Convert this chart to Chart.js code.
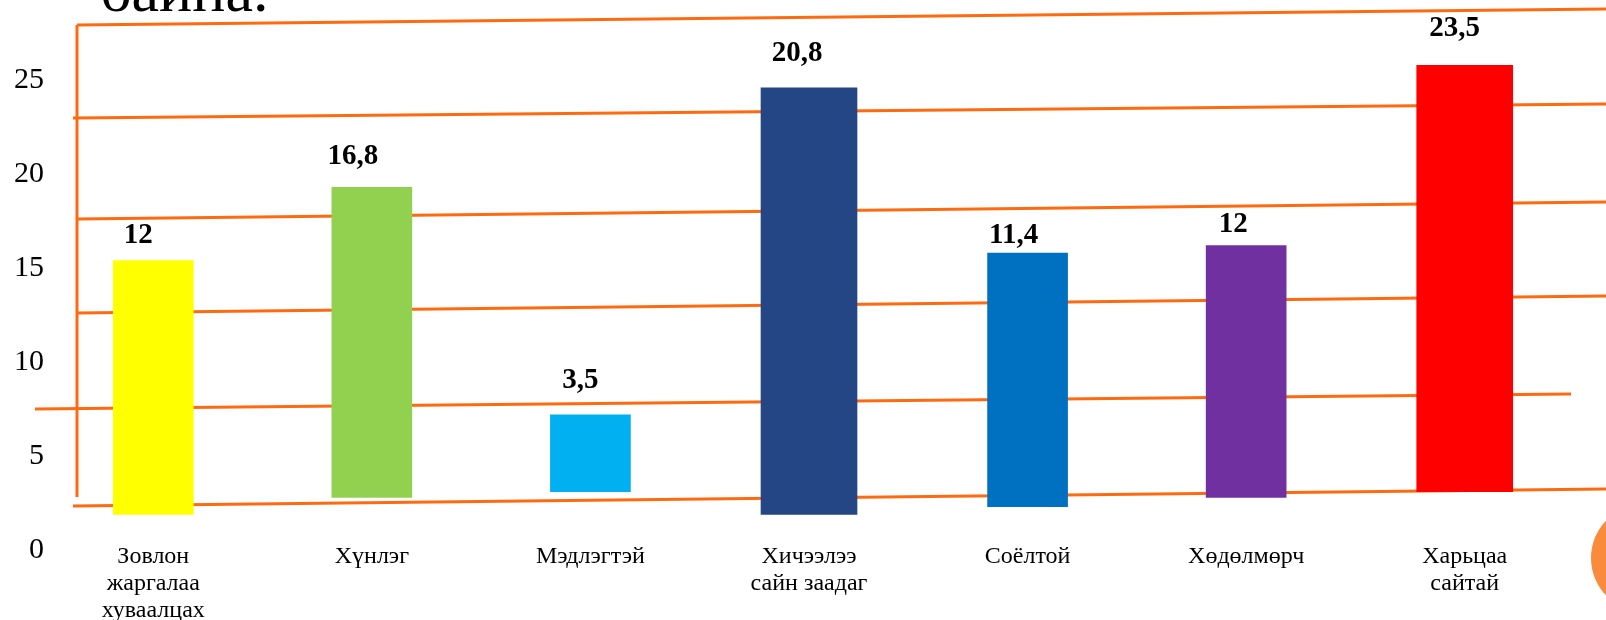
<!DOCTYPE html>
<html><head><meta charset="utf-8">
<script src="https://cdn.jsdelivr.net/npm/chart.js@4"></script>
<style>html,body{margin:0;padding:0;background:#fff;overflow:hidden}#wrap{width:1606px;height:620px;position:relative}</style>
</head><body><div id="wrap"><canvas id="c" width="1606" height="620"></canvas></div>
<script>
// ---- data ----
const categories = [['Зовлон','жаргалаа','хуваалцах'], ['Хүнлэг'], ['Мэдлэгтэй'], ['Хичээлээ','сайн заадаг'], ['Соёлтой'], ['Хөдөлмөрч'], ['Харьцаа','сайтай']];
const barTops  = [15.4, 19.3, 7.2, 24.6, 15.8, 16.2, 25.8];
const barBases = [1.9, 2.8, 3.1, 1.9, 2.3, 2.8, 3.1];
const valueLabels = ['12', '16,8', '3,5', '20,8', '11,4', '12', '23,5'];
const yTicks = [0, 5, 10, 15, 20, 25];

// ---- styles ----
const barColors = ['#FFFF00', '#92D050', '#00B0F0', '#244684', '#0070C0', '#7030A0', '#FF0000'];
const wideBars = new Set([3, 6]);
const labelNudgeX = [-15, -19, -10, -12, -14, -13, -10];
const labelNudgeY = [-25, -31, -34, -34, -18, -21, -37];
const ORANGE = '#FF6A10';
const SERIF = '"Liberation Serif", "Times New Roman", serif';

const pairs = categories.map((_, i) => [barBases[i], barTops[i]]);
const narrowData = pairs.map((p, i) => wideBars.has(i) ? null : p);
const wideData = pairs.map((p, i) => wideBars.has(i) ? p : null);

const decor = {
  id: 'decor',
  beforeDatasetsDraw(chart) {
    const ctx = chart.ctx;
    ctx.save();
    // title fragment at top
    ctx.fillStyle = '#000';
    ctx.font = '62px ' + SERIF;
    ctx.textBaseline = 'alphabetic';
    ctx.textAlign = 'left';
    ctx.fillText('байна.', 100, 11);
    // hand-drawn orange guide lines
    ctx.strokeStyle = ORANGE;
    ctx.lineWidth = 3;
    const segs = [
      [77, 25, 1606, 9], [73, 118, 1606, 104], [77, 219, 1606, 202],
      [77, 313, 1606, 296], [35, 409, 1571, 394], [73, 506, 1606, 489],
      [77, 25, 77, 497]
    ];
    segs.forEach(s => { ctx.beginPath(); ctx.moveTo(s[0], s[1]); ctx.lineTo(s[2], s[3]); ctx.stroke(); });
    // slide corner circle
    ctx.fillStyle = '#FA8B3C';
    ctx.beginPath(); ctx.arc(1645, 558, 54, 0, Math.PI * 2); ctx.fill();
    ctx.restore();
  },
  afterDatasetsDraw(chart) {
    const ctx = chart.ctx;
    ctx.save();
    ctx.fillStyle = '#000';
    ctx.font = 'bold 29px ' + SERIF;
    ctx.textAlign = 'center';
    ctx.textBaseline = 'middle';
    chart.data.datasets.forEach((ds, di) => {
      const meta = chart.getDatasetMeta(di);
      meta.data.forEach((el, i) => {
        if (ds.data[i] == null) return;
        ctx.fillText(valueLabels[i], el.x + labelNudgeX[i], el.y + labelNudgeY[i]);
      });
    });
    ctx.restore();
  }
};

new Chart(document.getElementById('c'), {
  type: 'bar',
  data: {
    labels: categories,
    datasets: [
      { data: narrowData, backgroundColor: barColors, barThickness: 80, grouped: false },
      { data: wideData, backgroundColor: barColors, barThickness: 96, grouped: false }
    ]
  },
  options: {
    responsive: false,
    animation: false,
    layout: { padding: { left: 0, right: 32, top: 24, bottom: 0 } },
    plugins: { legend: { display: false }, tooltip: { enabled: false }, title: { display: false } },
    scales: {
      x: {
        type: 'category',
        offset: true,
        grid: { display: false, drawTicks: false },
        border: { display: false },
        afterFit(s) { s.height = 70; },
        ticks: {
          autoSkip: false, maxRotation: 0, minRotation: 0,
          mirror: true,
          padding: -20,
          color: '#000',
          font: { family: SERIF, size: 24, lineHeight: 27 / 24 }
        }
      },
      y: {
        min: 0, max: 28,
        grid: { display: false, drawTicks: false },
        border: { display: false },
        afterFit(s) { s.width = 44; },
        afterBuildTicks(s) { s.ticks = yTicks.map(v => ({ value: v })); },
        ticks: {
          padding: 0,
          color: '#000',
          font: { family: SERIF, size: 30 }
        }
      }
    }
  },
  plugins: [decor]
});
</script>
</body></html>
